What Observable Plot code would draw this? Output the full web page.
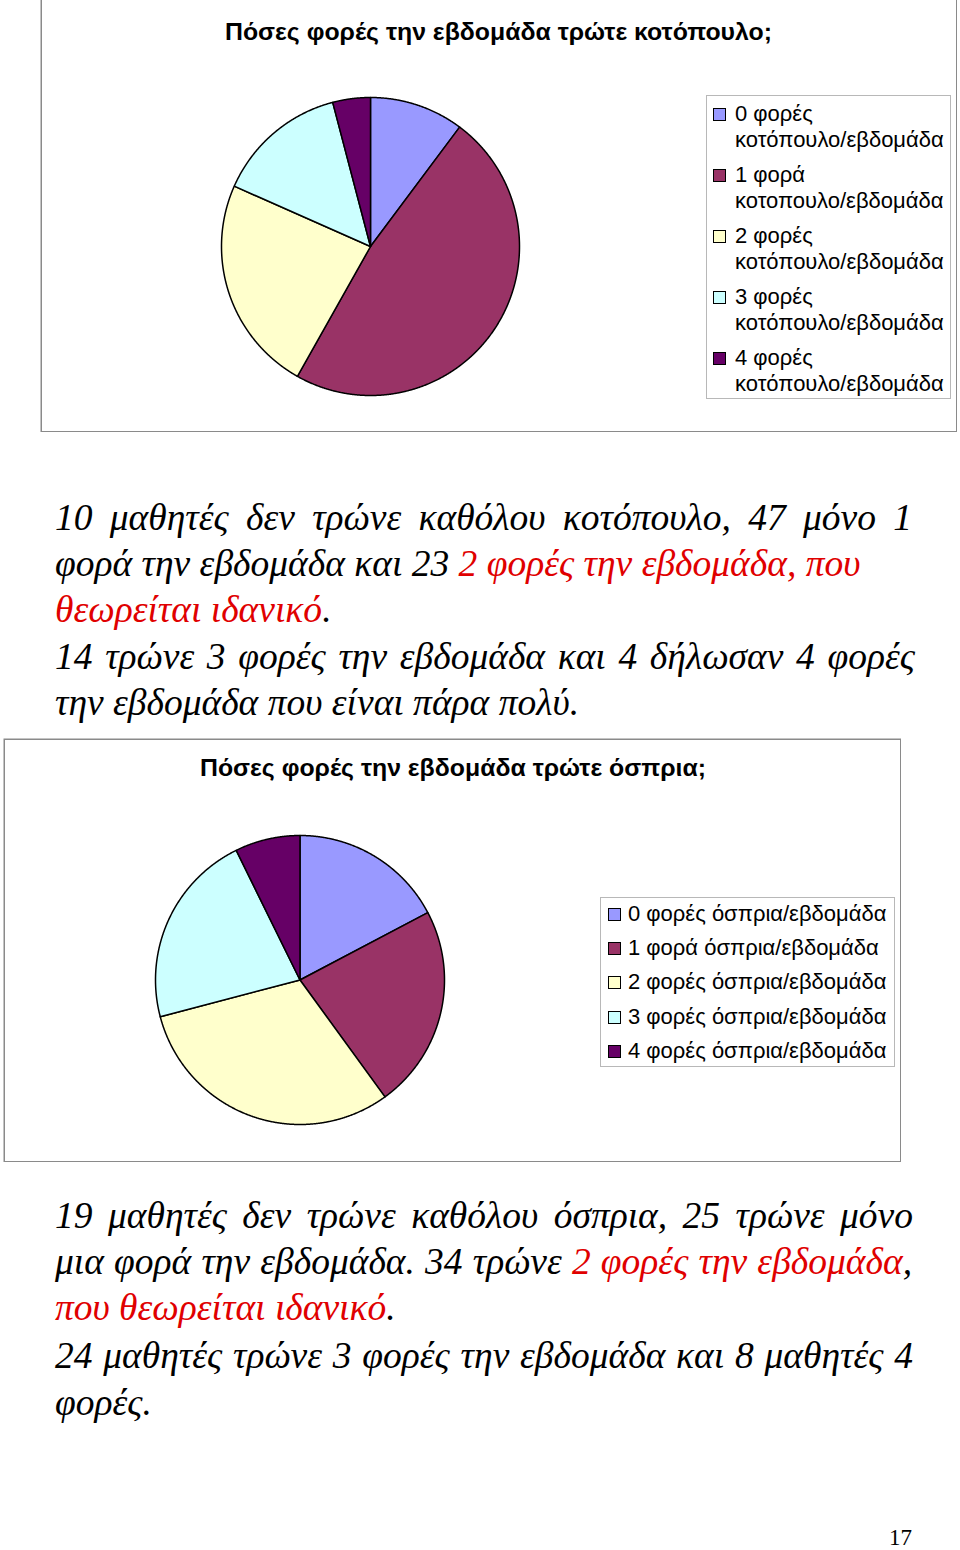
<!DOCTYPE html>
<html><head><meta charset="utf-8">
<script src="https://cdn.jsdelivr.net/npm/d3@7"></script>
<script src="https://cdn.jsdelivr.net/npm/@observablehq/plot@0.6"></script>
<style>
body{margin:0;background:#fff;}
#page{position:relative;width:960px;height:1550px;overflow:hidden;background:#fff;}
.abs{position:absolute;}
.title{font-family:"Liberation Sans",Arial,sans-serif;font-weight:bold;font-size:23px;line-height:28px;white-space:nowrap;color:#000;transform-origin:left center;}
.legend{border:1px solid #b8b8b8;background:#fff;font-family:"Liberation Sans",Arial,sans-serif;font-size:22px;color:#000;box-sizing:border-box;}
.sw{position:absolute;width:11px;height:11px;border:1px solid #000;}
.lt{position:absolute;white-space:nowrap;}
.para{font-family:"Liberation Serif","Times New Roman",serif;font-style:italic;font-size:37.5px;line-height:46px;white-space:nowrap;color:#000;}
.just{text-align:justify;text-align-last:justify;white-space:normal;}
.red{color:#e00000;}
</style></head>
<body><div id="page"></div>
<script>
// ---- data ----
const sliceColors = ["#9999FF", "#993366", "#FFFFCC", "#CCFFFF", "#660066"];
const chickenTitle = "Πόσες φορές την εβδομάδα τρώτε κοτόπουλο;";
const chickenValues = [10, 47, 23, 14, 4];
const chickenLabels = [
  ["0 φορές", "κοτόπουλο/εβδομάδα"],
  ["1 φορά", "κοτοπουλο/εβδομάδα"],
  ["2 φορές", "κοτόπουλο/εβδομάδα"],
  ["3 φορές", "κοτόπουλο/εβδομάδα"],
  ["4 φορές", "κοτόπουλο/εβδομάδα"]
];
const legumeTitle = "Πόσες φορές την εβδομάδα τρώτε όσπρια;";
const legumeValues = [19, 25, 34, 24, 8];
const legumeLabels = [
  "0 φορές όσπρια/εβδομάδα",
  "1 φορά όσπρια/εβδομάδα",
  "2 φορές όσπρια/εβδομάδα",
  "3 φορές όσπρια/εβδομάδα",
  "4 φορές όσπρια/εβδομάδα"
];
// text lines: segments [text, isRed]; j = justified line
const para1 = [
  {j: true, s: [["10 μαθητές δεν τρώνε καθόλου κοτόπουλο, 47 μόνο 1", 0]]},
  {j: false, s: [["φορά την εβδομάδα και 23 ", 0], ["2 φορές την εβδομάδα, που", 1]]},
  {j: false, s: [["θεωρείται ιδανικό", 1], [".", 0]]},
  {j: true, s: [["14 τρώνε 3 φορές την εβδομάδα και 4 δήλωσαν 4 φορές", 0]]},
  {j: false, s: [["την εβδομάδα που είναι πάρα πολύ.", 0]]}
];
const para2 = [
  {j: true, s: [["19 μαθητές δεν τρώνε καθόλου όσπρια, 25 τρώνε μόνο", 0]]},
  {j: true, s: [["μια φορά την εβδομάδα. 34 τρώνε ", 0], ["2 φορές την εβδομάδα", 1], [",", 0]]},
  {j: false, s: [["που θεωρείται ιδανικό", 1], [".", 0]]},
  {j: true, s: [["24 μαθητές τρώνε 3 φορές την εβδομάδα και 8 μαθητές 4", 0]]},
  {j: false, s: [["φορές.", 0]]}
];
const pageNumber = "17";

// ---- helpers ----
const page = document.getElementById("page");
function place(el, left, top) { el.style.left = left + "px"; el.style.top = top + "px"; el.classList.add("abs"); page.appendChild(el); return el; }

function pieChart(values, width, height, cx, cy, r) {
  const arcs = d3.pie().sort(null)(values);
  const wedges = arcs.map((a, i) => {
    const pts = [[0, 0]];
    const n = Math.max(2, Math.ceil((a.endAngle - a.startAngle) / 0.004));
    for (let k = 0; k <= n; k++) {
      const t = a.startAngle + (a.endAngle - a.startAngle) * k / n;
      pts.push([Math.sin(t), Math.cos(t)]);
    }
    pts.push([0, 0]);
    return Plot.line(pts, {x: d => d[0], y: d => d[1], fill: sliceColors[i], stroke: "#000", strokeWidth: 1.5, strokeLinejoin: "round"});
  });
  return Plot.plot({
    width, height, margin: 0,
    x: {domain: [-1, 1], range: [cx - r, cx + r], axis: null},
    y: {domain: [-1, 1], range: [cy + r, cy - r], axis: null},
    marks: [Plot.frame({stroke: "#8a8a8a", strokeWidth: 1.5, inset: 0.75}), ...wedges]
  });
}

function title(text, left, right, centerY) {
  const t = document.createElement("div"); t.className = "title"; t.textContent = text;
  place(t, left, centerY - 14);
  const w = t.getBoundingClientRect().width;
  t.style.transform = "scaleX(" + ((right - left) / w) + ")";
}

// ---- chart 1 ----
const svg1 = pieChart(chickenValues, 917, 434, 330, 248, 149);
place(svg1, 40, -2);
title(chickenTitle, 225, 772, 32);

const lg1 = document.createElement("div"); lg1.className = "legend";
lg1.style.width = "245px"; lg1.style.height = "304px";
chickenLabels.forEach((lab, i) => {
  const top = 5 + 61 * i;
  const sw = document.createElement("div"); sw.className = "sw"; sw.style.background = sliceColors[i];
  sw.style.left = "6px"; sw.style.top = (top + 7) + "px"; lg1.appendChild(sw);
  lab.forEach((line, k) => {
    const d = document.createElement("div"); d.className = "lt"; d.textContent = line;
    d.style.left = "28px"; d.style.top = (top + k * 26) + "px"; d.style.lineHeight = "26px";
    lg1.appendChild(d);
  });
});
place(lg1, 706, 95);

// ---- chart 2 ----
const svg2 = pieChart(legumeValues, 898, 424, 296.5, 241.5, 144.5);
place(svg2, 3, 738);
title(legumeTitle, 200, 706, 768);

const lg2 = document.createElement("div"); lg2.className = "legend";
lg2.style.width = "295px"; lg2.style.height = "170px";
legumeLabels.forEach((lab, i) => {
  const top = 3 + 34.2 * i;
  const sw = document.createElement("div"); sw.className = "sw"; sw.style.background = sliceColors[i];
  sw.style.left = "7px"; sw.style.top = (top + 7) + "px"; lg2.appendChild(sw);
  const d = document.createElement("div"); d.className = "lt"; d.textContent = lab;
  d.style.left = "27px"; d.style.top = top + "px"; d.style.lineHeight = "26px";
  lg2.appendChild(d);
});
place(lg2, 600, 897);

// ---- paragraphs ----
function paragraph(lines, tops, rights) {
  lines.forEach((ln, i) => {
    const d = document.createElement("div"); d.className = "para" + (ln.j ? " just" : "");
    if (ln.j) d.style.width = (rights[i] - 55) + "px";
    ln.s.forEach(([txt, red]) => {
      const sp = document.createElement("span"); sp.textContent = txt; if (red) sp.className = "red"; d.appendChild(sp);
    });
    place(d, 55, tops[i] - 23);
  });
}
paragraph(para1, [518, 564, 610, 657, 703], [912, 0, 0, 915, 0]);
paragraph(para2, [1216, 1262, 1308, 1356, 1403], [913, 912, 0, 913, 0]);

const pn = document.createElement("div"); pn.textContent = pageNumber;
pn.style.fontFamily = '"Liberation Serif",serif'; pn.style.fontSize = "23px"; pn.style.lineHeight = "20px";
place(pn, 889, 1528);
</script></body></html>
